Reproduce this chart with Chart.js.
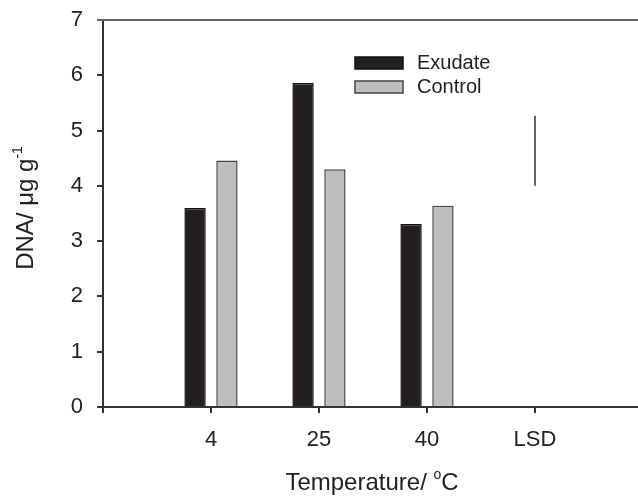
<!DOCTYPE html>
<html>
<head>
<meta charset="utf-8">
<script src="https://cdn.jsdelivr.net/npm/chart.js@4"></script>
<style>
  html, body { margin: 0; padding: 0; background: #fff; overflow: hidden; }
  #wrap { width: 660px; height: 498px; }
</style>
</head>
<body>
<div id="wrap"><canvas id="dnaChart" width="660" height="498"></canvas></div>
<script>
// Data
const categories = ["", "4", "25", "40", "LSD", ""];
const exudate = [null, 3.60, 5.86, 3.31, null, null];
const control = [null, 4.46, 4.30, 3.64, null, null];
const lsdRange = [4.00, 5.27];
const yTicks = [0, 1, 2, 3, 4, 5, 6, 7];

const FONT = "'Liberation Sans', Arial, sans-serif";

// draws text with optional superscript parts, centred on (x, y)
function drawParts(ctx, parts, x, y, size) {
  const supSize = Math.round(size * 0.6);
  let total = 0;
  parts.forEach(p => {
    ctx.font = `${p.sup ? supSize : size}px ${FONT}`;
    p.w = ctx.measureText(p.text).width;
    total += p.w;
  });
  let cx = x - total / 2;
  ctx.textAlign = "left";
  ctx.textBaseline = "alphabetic";
  parts.forEach(p => {
    ctx.font = `${p.sup ? supSize : size}px ${FONT}`;
    ctx.fillText(p.text, cx, p.sup ? y - size * 0.45 : y);
    cx += p.w;
  });
}

const extras = {
  id: "extras",
  afterDraw(chart) {
    const { ctx, chartArea } = chart;
    ctx.save();

    // top frame line
    ctx.strokeStyle = "#666";
    ctx.lineWidth = 2;
    ctx.beginPath();
    ctx.moveTo(chartArea.left - 6, chartArea.top);
    ctx.lineTo(chartArea.right, chartArea.top);
    ctx.stroke();

    // legend inside plot
    const items = chart.data.datasets.filter(d => d.type !== "line");
    items.forEach((d, i) => {
      const bx = 355, by = 57 + i * 24;
      ctx.fillStyle = d.backgroundColor;
      ctx.strokeStyle = d.borderColor;
      ctx.lineWidth = 1.5;
      ctx.fillRect(bx, by, 48, 12);
      ctx.strokeRect(bx, by, 48, 12);
      ctx.fillStyle = "#222";
      ctx.font = `20px ${FONT}`;
      ctx.textAlign = "left";
      ctx.textBaseline = "middle";
      ctx.fillText(d.label, 417, by + 6);
    });

    // axis titles
    ctx.fillStyle = "#222";
    drawParts(ctx, [{ text: "Temperature/ " }, { text: "o", sup: true }, { text: "C" }], 372, 490, 24);

    ctx.translate(33, 208);
    ctx.rotate(-Math.PI / 2);
    drawParts(ctx, [{ text: "DNA/ μg g" }, { text: "-1", sup: true }], 0, 0, 24);

    ctx.restore();
  }
};

new Chart(document.getElementById("dnaChart"), {
  type: "bar",
  data: {
    labels: categories,
    datasets: [
      {
        label: "Exudate",
        data: exudate,
        backgroundColor: "#231f20",
        borderColor: "#111",
        borderWidth: 1.5,
        categoryPercentage: 0.59,
        barPercentage: 0.67
      },
      {
        label: "Control",
        data: control,
        backgroundColor: "#bcbec0",
        borderColor: "#444",
        borderWidth: 1.5,
        categoryPercentage: 0.59,
        barPercentage: 0.67
      },
      {
        type: "line",
        label: "LSD",
        data: lsdRange.map(v => ({ x: "LSD", y: v })),
        borderColor: "#333",
        borderWidth: 1.5,
        pointRadius: 0,
        fill: false
      }
    ]
  },
  options: {
    responsive: false,
    animation: false,
    layout: { padding: { top: 20, right: 17, left: 0, bottom: 0 } },
    plugins: {
      legend: { display: false },
      tooltip: { enabled: false }
    },
    scales: {
      x: {
        offset: false,
        grid: { display: true, offset: false, drawOnChartArea: false, tickLength: 6, color: "#333", lineWidth: 2 },
        border: { color: "#333", width: 2 },
        ticks: { color: "#222", font: { family: FONT, size: 22 }, padding: 14, autoSkip: false, maxRotation: 0 },
        afterFit: s => { s.height = 91; s.paddingLeft = 0; s.paddingRight = 0; }
      },
      y: {
        min: 0,
        max: 7,
        afterBuildTicks: s => { s.ticks = yTicks.map(v => ({ value: v })); },
        grid: { display: true, drawOnChartArea: false, tickLength: 6, color: "#333", lineWidth: 2 },
        border: { color: "#333", width: 2 },
        ticks: { color: "#222", font: { family: FONT, size: 22 }, padding: 14 },
        afterFit: s => { s.width = 103; s.paddingTop = 0; s.paddingBottom = 0; }
      }
    }
  },
  plugins: [extras]
});
</script>
</body>
</html>
